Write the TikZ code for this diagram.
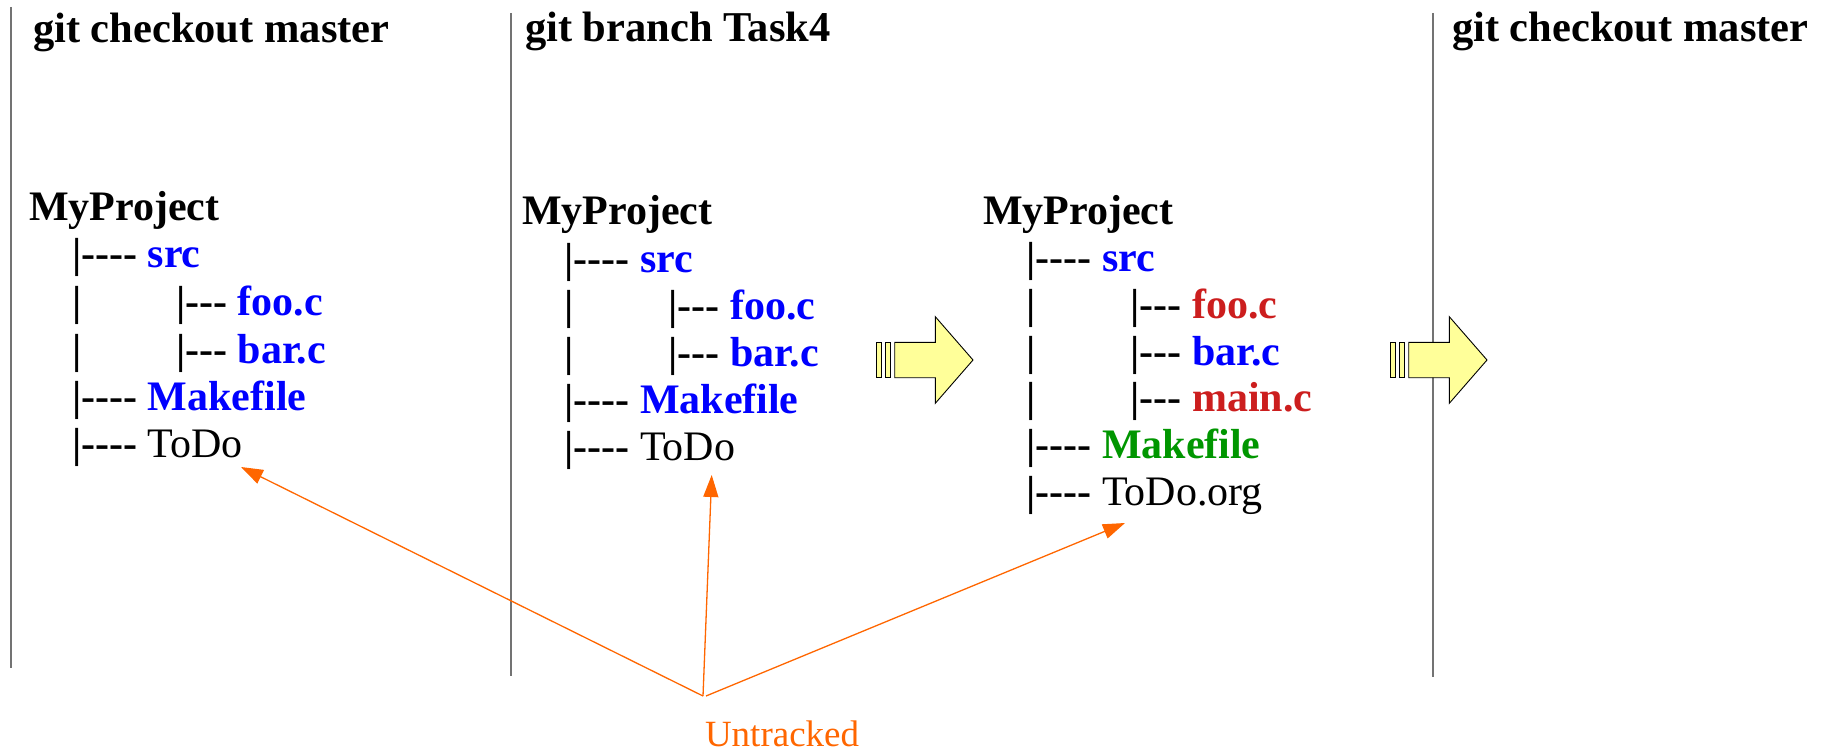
\documentclass[tikz,border=0pt]{standalone}
\usepackage{fontspec}
\setmainfont{Liberation Serif}[Ligatures=TeXOff]
\usetikzlibrary{arrows.meta}
\definecolor{fileblue}{RGB}{0,0,255}
\definecolor{filered}{RGB}{204,30,30}
\definecolor{filegreen}{RGB}{0,150,0}
\definecolor{noteorange}{RGB}{255,102,0}
\definecolor{arrowfill}{RGB}{255,255,153}
\tikzset{
  treetext/.style={anchor=base west, inner sep=0pt, outer sep=0pt,
    font=\fontsize{42}{50}\selectfont\bfseries},
  headtext/.style={treetext, font=\fontsize{42.5}{50}\selectfont\bfseries},
  notetext/.style={anchor=base west, inner sep=0pt, outer sep=0pt,
    text=noteorange, font=\fontsize{37}{44}\selectfont},
  divider/.style={draw=black!55, line width=1.4pt},
  note/.style={draw=noteorange, line width=1.3pt,
    -{Triangle[length=22pt,width=15pt]}},
  flowarrow/.style={draw=black, line width=0.9pt, fill=arrowfill, line join=miter},
  fatarrow/.pic={
    \path[flowarrow] (0,-17.7) rectangle (4.6,17.7);
    \path[flowarrow] (9,-17.7) rectangle (13.6,17.7);
    \path[flowarrow] (18,-17.7) -- (58.6,-17.7) -- (58.6,-43.3) -- (96.3,0)
      -- (58.6,43.3) -- (58.6,17.7) -- (18,17.7) -- cycle;
  }
}
\newcommand{\fb}[1]{\textcolor{fileblue}{#1}}
\newcommand{\fr}[1]{\textcolor{filered}{#1}}
\newcommand{\fg}[1]{\textcolor{filegreen}{#1}}
\newcommand{\plain}[1]{{\mdseries #1}}
\begin{document}
\begin{tikzpicture}[x=1pt, y=-1pt]
\useasboundingbox (0,0) rectangle (1827,751);

% column dividers
\draw[divider] (11,7) -- (11,668);
\draw[divider] (511,13) -- (511,676);
\draw[divider] (1433,13) -- (1433,677);

% headings
\node[headtext] (headA) at (33,42.5) {git checkout master};
\node[headtext] (headB) at (525,41.7) {git branch Task4};
\node[headtext] (headC) at (1452,42) {git checkout master};

% tree on master
\node[treetext] (projA) at (29,221) {MyProject};
\node[treetext] (srcA)  at (72,268) {|---- \fb{src}};
\node[treetext] (barA1) at (72,315) {|};
\node[treetext] (fooA)  at (176,315) {|--- \fb{foo.c}};
\node[treetext] (barA2) at (72,363) {|};
\node[treetext] (barcA) at (176,363) {|--- \fb{bar.c}};
\node[treetext] (makeA) at (72,410) {|---- \fb{Makefile}};
\node[treetext] (todoA) at (72,457) {|---- \plain{ToDo}};

% tree on Task4 before the edits
\node[treetext] (projB) at (522,225) {MyProject};
\node[treetext] (srcB)  at (564.3,272.7) {|---- \fb{src}};
\node[treetext] (barB1) at (564.3,319.3) {|};
\node[treetext] (fooB)  at (668.7,319.3) {|--- \fb{foo.c}};
\node[treetext] (barB2) at (564.3,366) {|};
\node[treetext] (barcB) at (668.7,366) {|--- \fb{bar.c}};
\node[treetext] (makeB) at (564.3,413.3) {|---- \fb{Makefile}};
\node[treetext] (todoB) at (564.3,460) {|---- \plain{ToDo}};

% tree on Task4 after the edits
\node[treetext] (projC) at (983,225) {MyProject};
\node[treetext] (srcC)  at (1026.3,271.7) {|---- \fb{src}};
\node[treetext] (barC1) at (1026.3,318) {|};
\node[treetext] (fooC)  at (1130.3,318) {|--- \fr{foo.c}};
\node[treetext] (barC2) at (1026.3,365) {|};
\node[treetext] (barcC) at (1130.3,365) {|--- \fb{bar.c}};
\node[treetext] (barC3) at (1026.3,411.7) {|};
\node[treetext] (mainC) at (1130.3,411.7) {|--- \fr{main.c}};
\node[treetext] (makeC) at (1026.3,458.3) {|---- \fg{Makefile}};
\node[treetext] (todoC) at (1026.3,505) {|---- \plain{ToDo.org}};

% transition arrows
\pic at (876.7,360) {fatarrow};
\pic at (1390.7,360) {fatarrow};

% untracked files
\node[notetext] (untracked) at (705,746) {Untracked};
\coordinate (hubL) at (703,696);
\coordinate (hubR) at (706,696);
\coordinate (tipA) at (241,467);
\coordinate (tipB) at (711.7,475);
\coordinate (tipC) at (1125,523);
\draw[note] (hubL) -- (tipA);
\draw[note] (hubL) -- (tipB);
\draw[note] (hubR) -- (tipC);
\end{tikzpicture}
\end{document}
